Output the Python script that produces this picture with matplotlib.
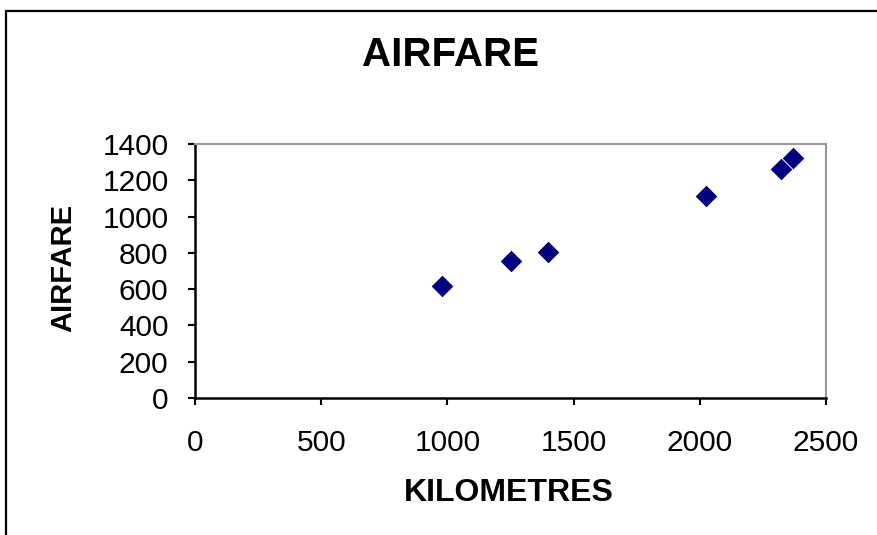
import matplotlib
matplotlib.use("Agg")
import matplotlib.pyplot as plt
from matplotlib.patches import Rectangle

kilometres = [980, 1250, 1400, 2025, 2320, 2370]
airfare = [620, 755, 805, 1115, 1262, 1325]
x_ticks = [0, 500, 1000, 1500, 2000, 2500]
y_ticks = [0, 200, 400, 600, 800, 1000, 1200, 1400]

plt.rcParams['font.family'] = ['Liberation Sans', 'DejaVu Sans']

W, H = 877, 535
fig = plt.figure(figsize=(W / 100, H / 100), dpi=100)
ax = fig.add_axes([195 / W, 1 - 398 / H, (826 - 195) / W, (398 - 144) / H])

ax.scatter(kilometres, airfare, marker='D', s=11 ** 2, color='#000080', zorder=3, linewidths=0)
ax.set_xlim(0, 2500)
ax.set_ylim(0, 1400)
ax.set_xticks(x_ticks)
ax.set_yticks(y_ticks)
ax.tick_params(axis='both', direction='out', length=5, width=1.5, color='black',
               labelsize=21.5)
ax.tick_params(axis='x', pad=17)
ax.tick_params(axis='y', pad=14)
for side in ['left', 'bottom']:
    ax.spines[side].set_color('black')
    ax.spines[side].set_linewidth(1.8)
for side in ['top', 'right']:
    ax.spines[side].set_color('#999999')
    ax.spines[side].set_linewidth(1.5)

fig.text(450 / W, 1 - 55 / H, 'AIRFARE', ha='center', va='center', fontsize=29, fontweight='bold')
fig.text(63 / W, 1 - 268 / H, 'AIRFARE', ha='center', va='center', rotation=90, fontsize=21, fontweight='bold')
fig.text(509 / W, 1 - 493 / H, 'KILOMETRES', ha='center', va='center', fontsize=23, fontweight='bold')

fig.add_artist(Rectangle((6 / W, -0.2), 1.5, (1 - 11 / H) + 0.2, transform=fig.transFigure,
                         fill=False, edgecolor='black', linewidth=1.6))

fig.savefig('out.png', dpi=100)
